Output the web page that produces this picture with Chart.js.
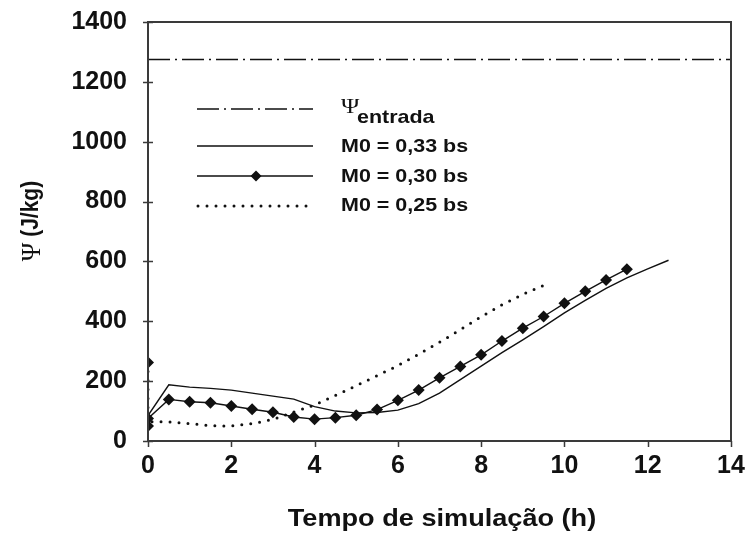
<!DOCTYPE html>
<html>
<head>
<meta charset="utf-8">
<script src="https://cdn.jsdelivr.net/npm/chart.js@4"></script>
<style>
  body { margin: 0; background: #fff; }
  canvas { display: block; }
</style>
</head>
<body>
<canvas id="grafico" width="747" height="549"></canvas>
<script>
// potencial de entrada (constante)
const tempoEntrada = [0, 14];
const psiEntrada = [1275, 1275];

// M0 = 0,33 bs
const tempo033 = [0, 0.5, 1, 1.5, 2, 2.5, 3, 3.5, 4, 4.5, 5, 5.5, 6, 6.5, 7, 7.5, 8, 8.5, 9, 9.5, 10, 10.5, 11, 11.5, 12, 12.5];
const psi033 = [85, 188, 180, 176, 170, 160, 150, 140, 115, 100, 94, 95, 103, 125, 160, 205, 250, 295, 338, 382, 428, 470, 510, 545, 575, 604];

// M0 = 0,30 bs (com marcadores)
const tempo030 = [0, 0, 0, 0.5, 1, 1.5, 2, 2.5, 3, 3.5, 4, 4.5, 5, 5.5, 6, 6.5, 7, 7.5, 8, 8.5, 9, 9.5, 10, 10.5, 11, 11.5];
const psi030 = [262, 50, 75, 139, 131, 128, 117, 106, 96, 80, 73, 78, 86, 105, 136, 170, 211, 249, 288, 334, 377, 416, 460, 500, 538, 574];

// M0 = 0,25 bs
const tempo025 = [0, 0, 0.2, 0.5, 1, 1.5, 2, 2.5, 3, 3.5, 4, 4.5, 5, 5.5, 6, 6.5, 7, 7.5, 8, 8.5, 9, 9.5];
const psi025 = [262, 65, 64, 64, 58, 51, 50, 58, 72, 97, 120, 152, 185, 218, 252, 290, 330, 372, 415, 455, 490, 520];

const ticksX = [0, 2, 4, 6, 8, 10, 12, 14];
const ticksY = [0, 200, 400, 600, 800, 1000, 1200, 1400];

const rotulos = ['entrada', 'M0 = 0,33 bs', 'M0 = 0,30 bs', 'M0 = 0,25 bs'];

const COR = '#111';
const FONTE = '"Liberation Sans", Arial, sans-serif';
const SERIFA = '"Liberation Serif", "DejaVu Serif", serif';
const ESTICA = 1.13;
const tracoPonto = [22, 5, 2, 5];

function pontos(xs, ys) {
  return xs.map((x, i) => ({ x: x, y: ys[i] }));
}

// texto levemente alargado na horizontal
function texto(ctx, txt, x, y, align) {
  ctx.save();
  ctx.translate(x, y);
  ctx.scale(ESTICA, 1);
  ctx.textAlign = align || 'left';
  ctx.fillText(txt, 0, 0);
  ctx.restore();
}

function losango(ctx, x, y, r) {
  ctx.beginPath();
  ctx.moveTo(x, y - r);
  ctx.lineTo(x + r, y);
  ctx.lineTo(x, y + r);
  ctx.lineTo(x - r, y);
  ctx.closePath();
  ctx.fill();
}

// eixos com tamanho fixo, sem folga extra para os rotulos das pontas
function semFolga(s) {
  s.paddingLeft = 0;
  s.paddingRight = 0;
  s.paddingTop = 0;
  s.paddingBottom = 0;
}

const molduraPlugin = {
  id: 'moldura',
  afterDraw(chart) {
    const ctx = chart.ctx;
    const area = chart.chartArea;
    const sx = chart.scales.x;
    const sy = chart.scales.y;
    ctx.save();
    ctx.strokeStyle = '#3a3a3a';
    ctx.lineWidth = 2;
    ctx.strokeRect(area.left, area.top, area.right - area.left, area.bottom - area.top);
    ctx.lineWidth = 1.5;
    ctx.beginPath();
    ticksY.forEach(v => {
      const py = Math.round(sy.getPixelForValue(v)) + 0.5;
      ctx.moveTo(area.left - 5, py);
      ctx.lineTo(area.left + 5, py);
    });
    ticksX.forEach(v => {
      const px = Math.round(sx.getPixelForValue(v)) + 0.5;
      ctx.moveTo(px, area.bottom);
      ctx.lineTo(px, area.bottom + 6);
    });
    ctx.stroke();
    ctx.restore();
  }
};

const textosPlugin = {
  id: 'textos',
  afterDraw(chart) {
    const ctx = chart.ctx;
    ctx.save();
    ctx.fillStyle = COR;
    ctx.strokeStyle = COR;

    // titulo do eixo x
    ctx.font = 'bold 24px ' + FONTE;
    ctx.textBaseline = 'middle';
    texto(ctx, 'Tempo de simulação (h)', 442, 519, 'center');

    // titulo do eixo y
    ctx.save();
    ctx.translate(31, 221);
    ctx.rotate(-Math.PI / 2);
    ctx.scale(1, ESTICA);
    ctx.textBaseline = 'middle';
    ctx.font = '25px ' + SERIFA;
    const wPsi = ctx.measureText('\u03A8').width;
    ctx.font = 'bold 21px ' + FONTE;
    const wUn = ctx.measureText(' (J/kg)').width;
    const x0 = -(wPsi + wUn) / 2;
    ctx.font = '25px ' + SERIFA;
    ctx.fillText('\u03A8', x0, 1);
    ctx.font = 'bold 21px ' + FONTE;
    ctx.fillText(' (J/kg)', x0 + wPsi, 0);
    ctx.restore();

    // legenda
    const xa = 197, xb = 313, xt = 341;
    const linhas = [109, 146, 176, 206];
    ctx.lineWidth = 1.4;

    ctx.setLineDash(tracoPonto);
    ctx.beginPath();
    ctx.moveTo(xa, linhas[0]);
    ctx.lineTo(xb, linhas[0]);
    ctx.stroke();
    ctx.setLineDash([]);

    ctx.beginPath();
    ctx.moveTo(xa, linhas[1]);
    ctx.lineTo(xb, linhas[1]);
    ctx.moveTo(xa, linhas[2]);
    ctx.lineTo(xb, linhas[2]);
    ctx.stroke();
    losango(ctx, 256, linhas[2], 5.5);

    ctx.lineWidth = 3;
    ctx.lineCap = 'round';
    ctx.setLineDash([0, 9]);
    ctx.beginPath();
    ctx.moveTo(xa + 1, linhas[3]);
    ctx.lineTo(xb, linhas[3]);
    ctx.stroke();
    ctx.setLineDash([]);

    ctx.textBaseline = 'alphabetic';
    ctx.font = '22px ' + SERIFA;
    texto(ctx, '\u03A8', xt, 113);
    ctx.font = 'bold 19px ' + FONTE;
    texto(ctx, rotulos[0], xt + 16, 123);
    ctx.textBaseline = 'middle';
    texto(ctx, rotulos[1], xt, linhas[1] + 1);
    texto(ctx, rotulos[2], xt, linhas[2] + 1);
    texto(ctx, rotulos[3], xt, linhas[3]);
    ctx.restore();
  }
};

const ctx = document.getElementById('grafico').getContext('2d');

new Chart(ctx, {
  type: 'scatter',
  data: {
    datasets: [
      {
        label: rotulos[0],
        data: pontos(tempoEntrada, psiEntrada),
        showLine: true,
        borderColor: COR,
        borderWidth: 1.5,
        borderDash: tracoPonto,
        pointRadius: 0
      },
      {
        label: rotulos[1],
        data: pontos(tempo033, psi033),
        showLine: true,
        borderColor: COR,
        borderWidth: 1.4,
        pointRadius: 0
      },
      {
        label: rotulos[2],
        data: pontos(tempo030, psi030),
        showLine: true,
        borderColor: COR,
        borderWidth: 1.4,
        pointStyle: 'rectRot',
        pointRadius: 6,
        pointBackgroundColor: COR,
        pointBorderColor: COR,
        pointBorderWidth: 0,
        // trecho vertical em t = 0 fica por conta da curva pontilhada
        segment: {
          borderColor: c => (c.p0.parsed.x === c.p1.parsed.x ? 'rgba(0,0,0,0)' : undefined)
        }
      },
      {
        label: rotulos[3],
        data: pontos(tempo025, psi025),
        showLine: true,
        borderColor: COR,
        borderWidth: 3,
        borderDash: [0, 9],
        borderCapStyle: 'round',
        pointRadius: 0
      }
    ]
  },
  options: {
    responsive: false,
    animation: false,
    layout: { padding: { top: 22, right: 16, left: 0, bottom: 0 } },
    plugins: {
      legend: { display: false },
      tooltip: { enabled: false }
    },
    scales: {
      x: {
        type: 'linear',
        min: 0,
        max: 14,
        afterBuildTicks: s => { s.ticks = ticksX.map(v => ({ value: v })); },
        afterFit: s => { s.height = 108; semFolga(s); },
        grid: { display: false, drawTicks: false },
        border: { display: false },
        ticks: {
          padding: 10,
          color: COR,
          callback: v => String(v),
          font: { family: FONTE, size: 25, weight: 'bold' }
        }
      },
      y: {
        min: 0,
        max: 1400,
        afterBuildTicks: s => { s.ticks = ticksY.map(v => ({ value: v })); },
        afterFit: s => { s.width = 148; semFolga(s); },
        grid: { display: false, drawTicks: false },
        border: { display: false },
        ticks: {
          padding: 21,
          color: COR,
          callback: v => String(v),
          font: { family: FONTE, size: 25, weight: 'bold' }
        }
      }
    }
  },
  plugins: [molduraPlugin, textosPlugin]
});
</script>
</body>
</html>
